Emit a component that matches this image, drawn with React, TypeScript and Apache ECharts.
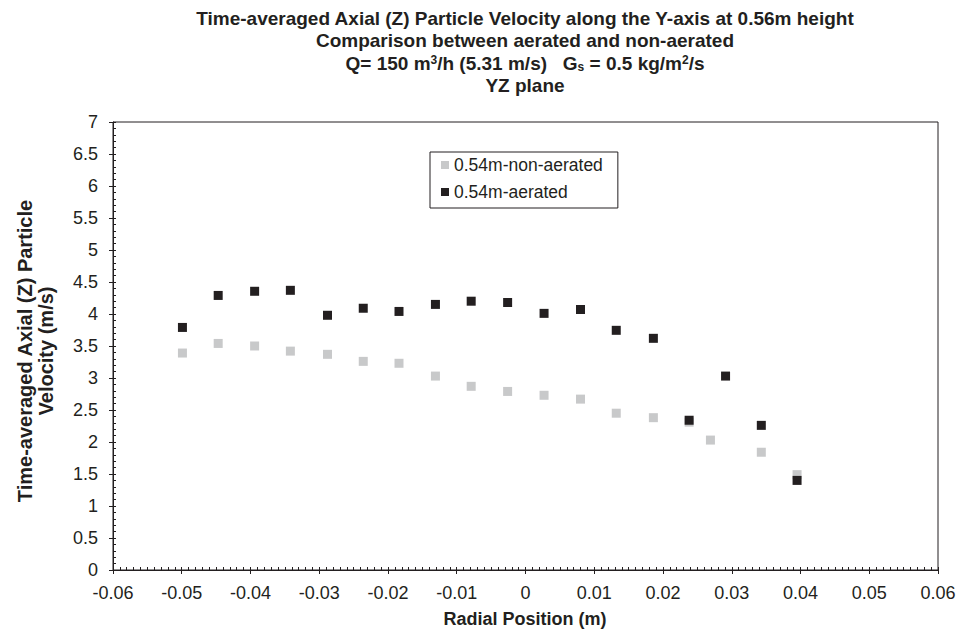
import React, { useEffect, useRef } from "react";
import * as echarts from "echarts";

const xAerated = [-0.0499, -0.0447, -0.0394, -0.0342, -0.0288, -0.0236, -0.0184, -0.0131, -0.0079, -0.0026, 0.0027, 0.008, 0.0132, 0.0186, 0.0238, 0.0291, 0.0343, 0.0395];
const yAerated = [3.79, 4.29, 4.355, 4.37, 3.98, 4.09, 4.04, 4.15, 4.2, 4.18, 4.01, 4.07, 3.745, 3.62, 2.34, 3.03, 2.26, 1.4];
const xNonAerated = [-0.0499, -0.0447, -0.0394, -0.0342, -0.0288, -0.0236, -0.0184, -0.0131, -0.0079, -0.0026, 0.0027, 0.008, 0.0132, 0.0186, 0.0238, 0.0269, 0.0343, 0.0395];
const yNonAerated = [3.39, 3.54, 3.5, 3.42, 3.37, 3.26, 3.23, 3.03, 2.87, 2.79, 2.73, 2.67, 2.45, 2.38, 2.31, 2.03, 1.84, 1.49];

const seriesNames = ["0.54m-non-aerated", "0.54m-aerated"];
const titleLines = [
  "Time-averaged Axial (Z) Particle Velocity along the Y-axis at 0.56m height",
  "Comparison between aerated and non-aerated",
  "Q= 150 m{sup|3}/h (5.31 m/s)   G{sub|s} = 0.5 kg/m{sup|2}/s",
  "YZ plane",
];
const yTitle = "Time-averaged Axial (Z) Particle\nVelocity (m/s)";
const xTitle = "Radial Position (m)";

const FONT = "'Liberation Sans', Arial, Helvetica, sans-serif";
const TXT = "#231f20";

export default function App() {
  const ref = useRef<HTMLDivElement>(null);
  useEffect(() => {
    if (!ref.current) return;
    const chart = echarts.init(ref.current, undefined, { renderer: "svg" });
    const pair = (xs: number[], ys: number[]) => xs.map((x, i) => [x, ys[i]]);
    chart.setOption({
      animation: false,
      backgroundColor: "#ffffff",
      textStyle: { fontFamily: FONT, color: TXT },
      grid: {
        left: 113,
        right: 22,
        top: 122,
        bottom: 66,
        show: true,
        borderColor: TXT,
        borderWidth: 1,
        backgroundColor: "transparent",
      },
      legend: {
        orient: "vertical",
        left: 430,
        top: 152,
        data: seriesNames,
        icon: "rect",
        itemWidth: 8,
        itemHeight: 8,
        itemGap: 9,
        borderColor: TXT,
        borderWidth: 1,
        borderRadius: 0,
        padding: [4, 15, 7, 11],
        itemStyle: { opacity: 1 },
        textStyle: { fontFamily: FONT, fontSize: 17.5, color: TXT },
      },
      xAxis: [
        {
          type: "value",
          min: -0.06,
          max: 0.06,
          interval: 0.01,
          position: "bottom",
          axisLine: { show: true, onZero: false, lineStyle: { color: TXT, width: 1 } },
          axisTick: { show: true, length: 4, inside: false, lineStyle: { color: TXT } },
          axisLabel: {
            fontFamily: FONT,
            fontSize: 18,
            color: TXT,
            margin: 14,
            formatter: (v: number) => String(parseFloat(v.toFixed(3))),
          },
          splitLine: { show: false },
        },
        {
          type: "value",
          min: -0.06,
          max: 0.06,
          interval: 0.001,
          position: "bottom",
          axisLine: { show: false, onZero: false },
          axisTick: { show: true, length: 3, inside: true, lineStyle: { color: TXT } },
          axisLabel: { show: false },
          splitLine: { show: false },
        },
      ],
      yAxis: [
        {
          type: "value",
          min: 0,
          max: 7,
          interval: 0.5,
          position: "left",
          axisLine: { show: true, onZero: false, lineStyle: { color: TXT, width: 1 } },
          axisTick: { show: true, length: 4, inside: false, lineStyle: { color: TXT } },
          axisLabel: {
            fontFamily: FONT,
            fontSize: 18,
            color: TXT,
            margin: 15,
            formatter: (v: number) => String(parseFloat(v.toFixed(2))),
          },
          splitLine: { show: false },
        },
        {
          type: "value",
          min: 0,
          max: 7,
          interval: 0.1,
          position: "left",
          axisLine: { show: false, onZero: false },
          axisTick: { show: true, length: 3, inside: true, lineStyle: { color: TXT } },
          axisLabel: { show: false },
          splitLine: { show: false },
        },
      ],
      graphic: [
        ...titleLines.map((t, i) => ({
          type: "text",
          x: 525,
          y: 18 + i * 22.6,
          silent: true,
          style: {
            text: t,
            align: "center",
            verticalAlign: "middle",
            fontFamily: FONT,
            fontSize: 19,
            fontWeight: "bold",
            fill: TXT,
            rich: {
              sup: { fontFamily: FONT, fontSize: 12, fontWeight: "bold", fill: TXT, verticalAlign: "top", lineHeight: 10 },
              sub: { fontFamily: FONT, fontSize: 12, fontWeight: "bold", fill: TXT, verticalAlign: "bottom", lineHeight: 8 },
            },
          },
        })),
        {
          type: "text",
          x: 35,
          y: 351,
          rotation: Math.PI / 2,
          silent: true,
          style: {
            text: yTitle,
            align: "center",
            verticalAlign: "middle",
            fontFamily: FONT,
            fontSize: 20,
            fontWeight: "bold",
            lineHeight: 21,
            fill: TXT,
          },
        },
        {
          type: "text",
          x: 525,
          y: 619,
          silent: true,
          style: {
            text: xTitle,
            align: "center",
            verticalAlign: "middle",
            fontFamily: FONT,
            fontSize: 18,
            fontWeight: "bold",
            fill: TXT,
          },
        },
      ],
      series: [
        {
          name: seriesNames[0],
          type: "scatter",
          symbol: "rect",
          symbolSize: 9,
          itemStyle: { color: "#c8c9ca", opacity: 1 },
          data: pair(xNonAerated, yNonAerated),
        },
        {
          name: seriesNames[1],
          type: "scatter",
          symbol: "rect",
          symbolSize: 9,
          itemStyle: { color: "#231f20", opacity: 1 },
          data: pair(xAerated, yAerated),
        },
      ],
    });
    return () => chart.dispose();
  }, []);
  return <div ref={ref} style={{ position: "fixed", left: 0, top: 0, width: 960, height: 636 }} />;
}
